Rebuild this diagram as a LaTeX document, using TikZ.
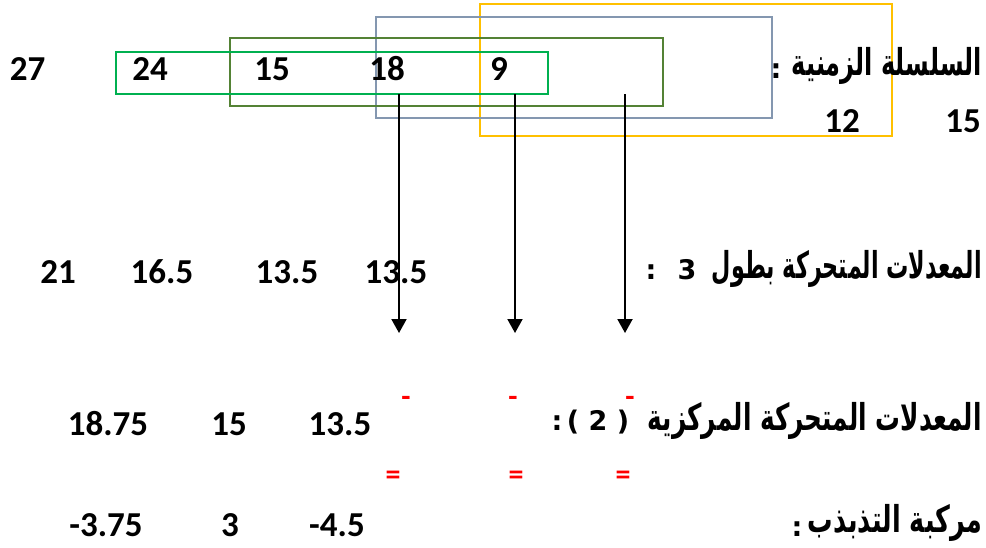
\documentclass[tikz,border=0pt]{standalone}
\usepackage{fontspec}
\usepackage{graphicx}
\setmainfont{Carlito}
\newfontfamily\arabicfont[Script=Arabic]{DejaVu Sans}
\newfontfamily\lblfont{DejaVu Sans}
\TeXXeTstate=1
\usetikzlibrary{arrows.meta}
\definecolor{boxgreen}{HTML}{00B050}
\definecolor{boxolive}{HTML}{548235}
\definecolor{boxblue}{HTML}{8497B0}
\definecolor{boxyellow}{HTML}{FFC000}
\tikzset{
  num/.style={font=\fontsize{35}{40}\selectfont\bfseries, inner sep=0pt, anchor=base},
  arlbl/.style={font=\arabicfont\fontsize{37}{44}\selectfont\bfseries, inner sep=0pt, anchor=base east},
  latlbl/.style={font=\lblfont\fontsize{27}{32}\selectfont\bfseries, inner sep=0pt, anchor=base},
  redsign/.style={font=\fontsize{30}{36}\selectfont\bfseries, text=red, inner sep=0pt, anchor=center},
  win/.style={line width=2pt},
  arr/.style={line width=2pt, -{Triangle[length=14pt,width=15pt]}}
}
\begin{document}
\begin{tikzpicture}[x=1pt,y=-1pt]
\useasboundingbox (0,0) rectangle (986,547);
% windows
\draw[win, boxyellow] (480,3.5) rectangle (892,135.5);
\draw[win, boxblue] (376,17) rectangle (772,117.5);
\draw[win, boxolive] (230,38) rectangle (662.5,105.5);
\draw[win, boxgreen] (115.5,51.5) rectangle (548,94);
% row 1
\node[num] (s27) at (27.5,80) {27};
\node[num] (s24) at (150,80) {24};
\node[num] (s15) at (272,80) {15};
\node[num] (s18) at (387,80) {18};
\node[num] (s9) at (499,80) {9};
\node[num] (s12) at (842,132) {12};
\node[num] (s15b) at (963,132) {15};
\node[arlbl] (l1) at (982,75) {\resizebox{190pt}{\height}{\beginR السلسلة الزمنية\endR}};
\node[latlbl] (l1c) at (776,78) {:};
% row 2
\node[num] (m21) at (58,283) {21};
\node[num] (m165) at (162,283) {16.5};
\node[num] (m135a) at (287,283) {13.5};
\node[num] (m135b) at (396,283) {13.5};
\node[arlbl] (l2) at (982,278) {\resizebox{270pt}{\height}{\beginR المعدلات المتحركة بطول\endR}};
\node[latlbl] (l2n) at (687,279) {3};
\node[latlbl] (l2c) at (651,279) {:};
% row 3
\node[num] (c1875) at (108,435) {18.75};
\node[num] (c15) at (229,435) {15};
\node[num] (c135) at (340,435) {13.5};
\node[arlbl] (l3) at (982,430) {\resizebox{334pt}{\height}{\beginR المعدلات المتحركة المركزية\endR}};
\node[latlbl] (l3n) at (598,430) {( 2 )};
\node[latlbl] (l3c) at (557,430) {:};
% row 4
\node[num] (o375) at (106,536.5) {-3.75};
\node[num] (o3) at (230,536.5) {3};
\node[num] (o45) at (337,536.5) {-4.5};
\node[arlbl] (l4) at (982,532) {\resizebox{174pt}{\height}{\beginR مركبة التذبذب\endR}};
\node[latlbl] (l4c) at (797,536) {:};
% red signs
\node[redsign] (d1) at (406,401) {-};
\node[redsign] (d2) at (513,401) {-};
\node[redsign] (d3) at (630,401) {-};
\node[redsign] (e1) at (393,478) {=};
\node[redsign] (e2) at (516,478) {=};
\node[redsign] (e3) at (623,478) {=};
% arrows
\coordinate (a1s) at (399,94);
\coordinate (a1e) at (399,333);
\coordinate (a2s) at (515,94);
\coordinate (a2e) at (515,333);
\coordinate (a3s) at (625,94);
\coordinate (a3e) at (625,333);
\draw[arr] (a1s) -- (a1e);
\draw[arr] (a2s) -- (a2e);
\draw[arr] (a3s) -- (a3e);
\end{tikzpicture}
\end{document}
